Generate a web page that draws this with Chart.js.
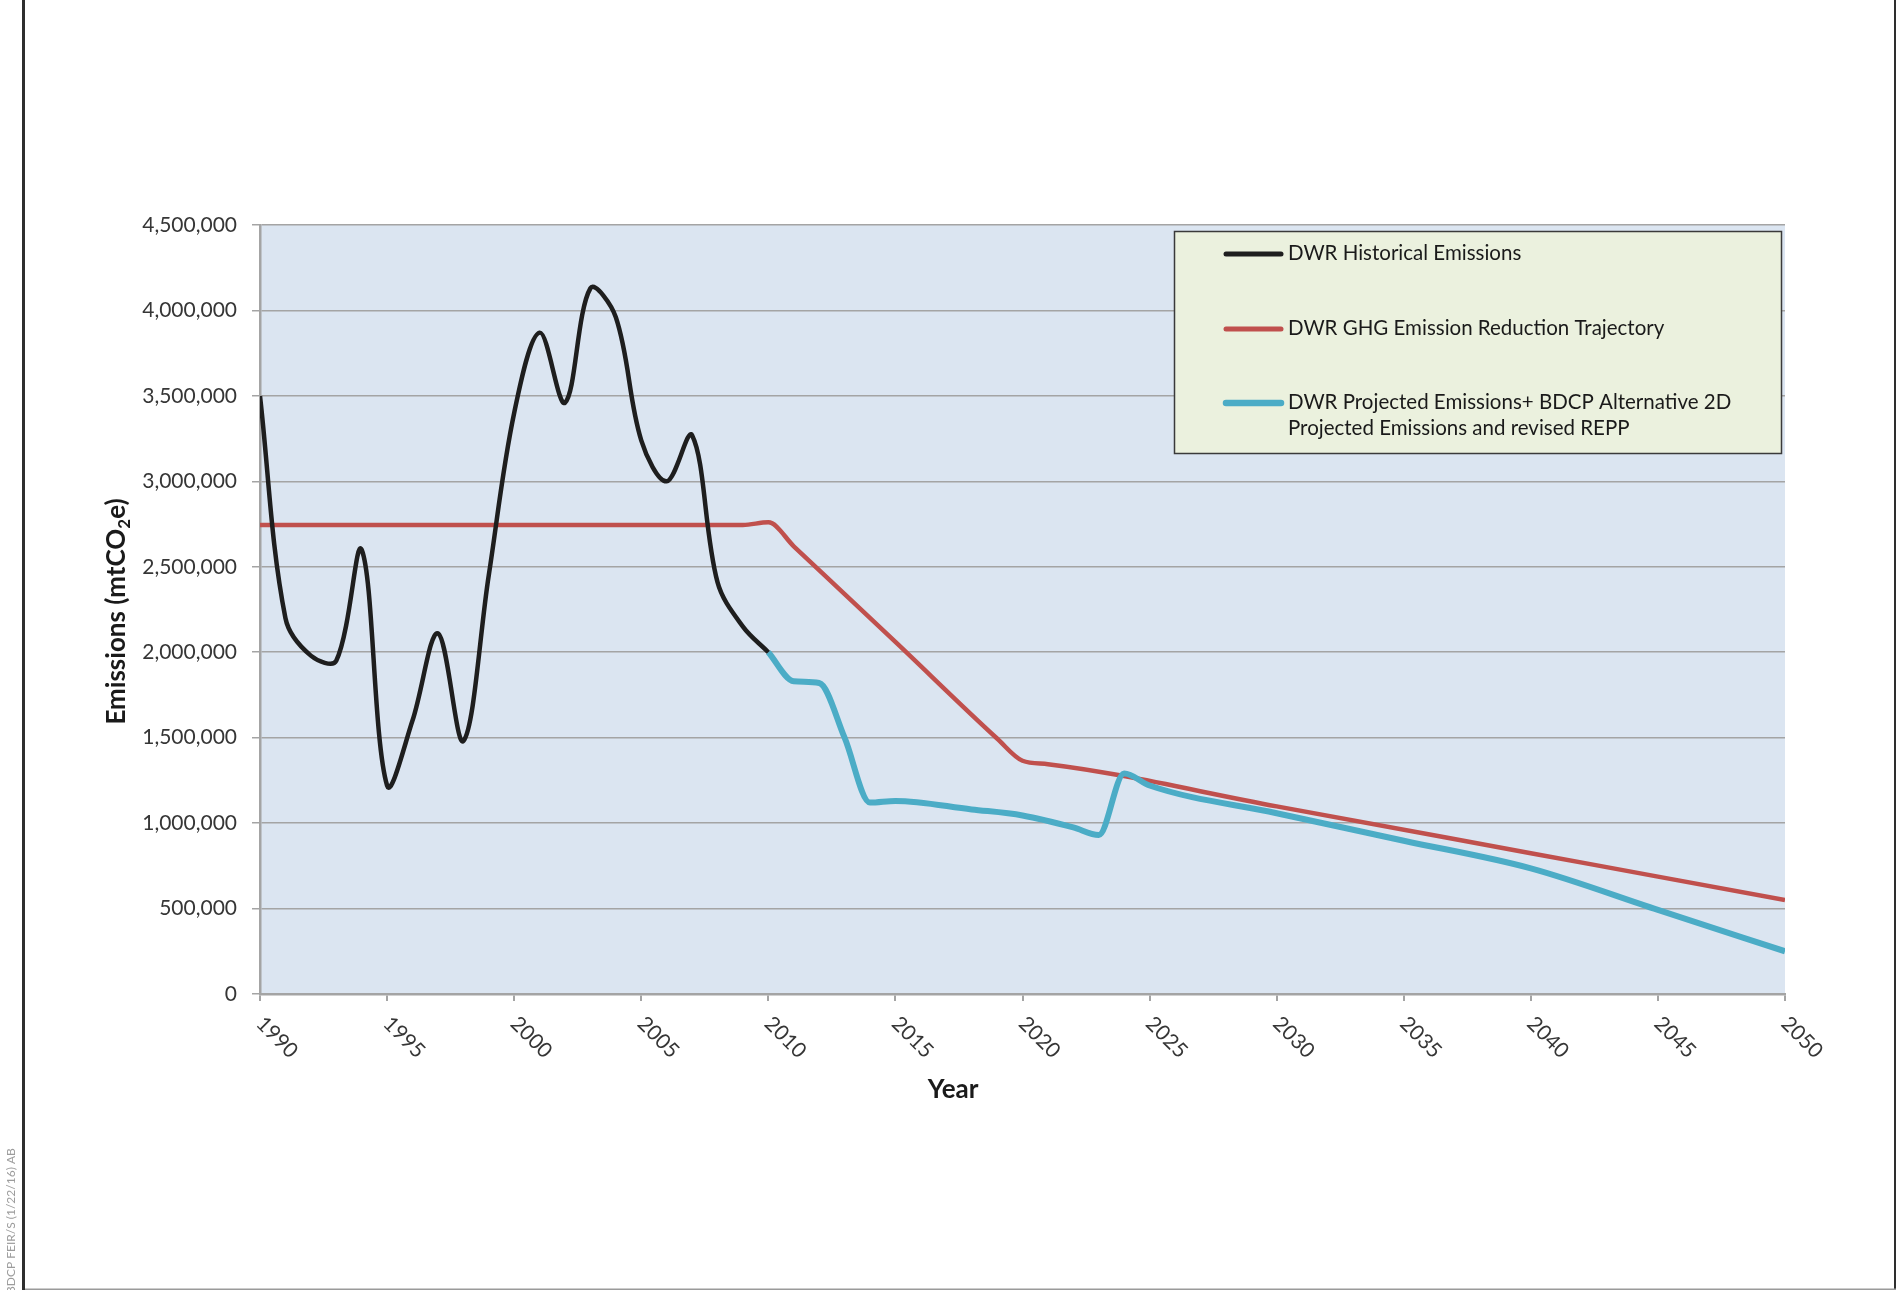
<!DOCTYPE html>
<html>
<head>
<meta charset="utf-8">
<script src="https://cdn.jsdelivr.net/npm/chart.js@4.4.0/dist/chart.umd.min.js"></script>
<style>
  html, body { margin: 0; padding: 0; background: #fff; overflow: hidden; }
  canvas { display: block; }
</style>
</head>
<body>
<canvas id="emissions" width="1896" height="1290"></canvas>
<script>
// values
const histYears = [1990, 1991, 1992, 1993, 1994, 1995, 1996, 1997, 1998, 1999, 2000,
                   2001, 2002, 2003, 2004, 2005, 2006, 2007, 2008, 2009, 2010];
const histValues = [3500000, 2200000, 1980000, 1950000, 2600000, 1220000, 1600000, 2110000, 1480000, 2450000, 3400000,
                    3870000, 3460000, 4130000, 3960000, 3240000, 3000000, 3270000, 2410000, 2150000, 2000000];

const targetYears = [1990, 2009, 2010, 2011, 2015, 2019, 2020, 2021, 2030, 2040, 2045, 2050];
const targetValues = [2745000, 2745000, 2760000, 2620000, 2060000, 1495000, 1365000, 1345000, 1098000, 824000, 687000, 550000];

const projYears = [2010, 2011, 2012, 2013, 2014, 2015, 2018, 2020, 2022, 2023, 2024, 2025, 2030, 2035, 2040, 2045, 2050];
const projValues = [2000000, 1830000, 1820000, 1500000, 1120000, 1130000, 1080000, 1045000, 975000, 930000, 1290000, 1220000,
                    1058000, 897000, 735000, 492000, 250000];

const yearTicks = [1990, 1995, 2000, 2005, 2010, 2015, 2020, 2025, 2030, 2035, 2040, 2045, 2050];
const valueTicks = [0, 500000, 1000000, 1500000, 2000000, 2500000, 3000000, 3500000, 4000000, 4500000];

const seriesLabels = [
  ['DWR Historical Emissions'],
  ['DWR GHG Emission Reduction Trajectory'],
  ['DWR Projected Emissions+ BDCP Alternative 2D', 'Projected Emissions and revised REPP']
];

const toPoints = (xs, ys) => xs.map((x, i) => ({ x: x, y: ys[i] }));

const TEXT = '#363636';
const GRID = '#a4a4a4';

const decor = {
  id: 'decor',
  beforeDraw(chart) {
    const { ctx, chartArea: a } = chart;
    ctx.save();
    ctx.fillStyle = '#ffffff';
    ctx.fillRect(0, 0, chart.width, chart.height);
    ctx.fillStyle = '#dbe5f1';
    ctx.fillRect(a.left, a.top, a.right - a.left, a.bottom - a.top);
    ctx.restore();
  },
  afterDraw(chart) {
    const { ctx, chartArea: a } = chart;
    const xs = chart.scales.x;
    ctx.save();

    // rotated year labels (clockwise, reading down-right)
    ctx.fillStyle = TEXT;
    ctx.font = '21px Lato';
    ctx.textAlign = 'left';
    ctx.textBaseline = 'alphabetic';
    yearTicks.forEach(yr => {
      const px = xs.getPixelForValue(yr);
      ctx.save();
      ctx.translate(px - 5, a.bottom + 31);
      ctx.rotate(Math.PI / 4);
      ctx.fillText(String(yr), 0, 0);
      ctx.restore();
    });

    // x title
    ctx.fillStyle = '#1a1a1a';
    ctx.font = 'bold 26px Lato';
    ctx.textAlign = 'center';
    ctx.fillText('Year', a.left + (a.right - a.left) * 0.4545, a.bottom + 104);

    // y title with subscript
    ctx.save();
    ctx.translate(125, (a.top + a.bottom) / 2 + 2);
    ctx.rotate(-Math.PI / 2);
    ctx.textAlign = 'left';
    const big = 'bold 26px Lato', small = 'bold 17px Lato';
    ctx.font = big;
    const w1 = ctx.measureText('Emissions (mtCO').width;
    const w3 = ctx.measureText('e)').width;
    ctx.font = small;
    const w2 = ctx.measureText('2').width;
    let x0 = -(w1 + w2 + w3) / 2;
    ctx.font = big;
    ctx.fillText('Emissions (mtCO', x0, 0);
    ctx.font = small;
    ctx.fillText('2', x0 + w1, 5);
    ctx.font = big;
    ctx.fillText('e)', x0 + w1 + w2, 0);
    ctx.restore();

    // legend box
    const lx = 1174, ly = 231, lw = 607, lh = 222;
    ctx.fillStyle = '#ebf1de';
    ctx.fillRect(lx, ly, lw, lh);
    ctx.strokeStyle = '#3a3a3a';
    ctx.lineWidth = 1.5;
    ctx.strokeRect(lx + 0.5, ly + 0.5, lw, lh);
    const rowBase = [260, 335, 409];
    const order = [0, 1, 2];
    ctx.font = '20.5px Lato';
    ctx.textAlign = 'left';
    order.forEach((di, r) => {
      const ds = chart.data.datasets[di];
      ctx.strokeStyle = ds.borderColor;
      ctx.lineWidth = ds.borderWidth + 0.5;
      ctx.lineCap = 'round';
      ctx.beginPath();
      ctx.moveTo(1226, rowBase[r] - 6);
      ctx.lineTo(1281, rowBase[r] - 6);
      ctx.stroke();
      ctx.fillStyle = '#1a1a1a';
      seriesLabels[di].forEach((t, k) => ctx.fillText(t, 1288, rowBase[r] + k * 26));
    });

    // page frame and side note
    ctx.fillStyle = '#2e2e2e';
    ctx.fillRect(22, 0, 3, chart.height);
    ctx.fillRect(1894, 0, 2, chart.height);
    ctx.fillStyle = '#9a9a9a';
    ctx.fillRect(25, chart.height - 1.5, chart.width - 25, 1.5);
    ctx.save();
    ctx.translate(15, 1294);
    ctx.rotate(-Math.PI / 2);
    ctx.fillStyle = '#9c9c9c';
    ctx.font = '12px Lato';
    ctx.textAlign = 'left';
    ctx.fillText('BDCP FEIR/S (1/22/16) AB', 0, 0);
    ctx.restore();

    ctx.restore();
  }
};

new Chart(document.getElementById('emissions'), {
  type: 'line',
  data: {
    datasets: [
      {
        label: seriesLabels[0].join(' '),
        data: toPoints(histYears, histValues),
        borderColor: '#1e1e1e',
        borderWidth: 4.5,
        tension: 0.35,
        pointRadius: 0,
        order: 0
      },
      {
        label: seriesLabels[1].join(' '),
        data: toPoints(targetYears, targetValues),
        borderColor: '#c0504d',
        borderWidth: 4.5,
        cubicInterpolationMode: 'monotone',
        pointRadius: 0,
        order: 2
      },
      {
        label: seriesLabels[2].join(' '),
        data: toPoints(projYears, projValues),
        borderColor: '#4bacc6',
        borderWidth: 6,
        cubicInterpolationMode: 'monotone',
        pointRadius: 0,
        order: 1
      }
    ]
  },
  options: {
    responsive: false,
    devicePixelRatio: 1,
    animation: false,
    layout: { padding: { left: 0, top: 225, right: 111, bottom: 0 } },
    plugins: { legend: { display: false }, tooltip: { enabled: false } },
    scales: {
      x: {
        type: 'linear',
        min: yearTicks[0],
        max: yearTicks[yearTicks.length - 1],
        afterBuildTicks: s => { s.ticks = yearTicks.map(v => ({ value: v })); },
        afterFit: s => { s.height = 296; },
        ticks: { display: false },
        grid: { drawOnChartArea: false, drawTicks: true, tickLength: 7, color: GRID, lineWidth: 2 },
        border: { color: GRID, width: 2.5 }
      },
      y: {
        min: valueTicks[0],
        max: valueTicks[valueTicks.length - 1],
        afterBuildTicks: s => { s.ticks = valueTicks.map(v => ({ value: v })); },
        afterFit: s => { s.width = 260; },
        ticks: {
          color: TEXT,
          font: { family: 'Lato', size: 21 },
          padding: 15,
          callback: v => v.toLocaleString('en-US')
        },
        grid: { color: GRID, lineWidth: 1.5, tickLength: 8 },
        border: { color: GRID, width: 2.5 }
      }
    }
  },
  plugins: [decor]
});
</script>
</body>
</html>
